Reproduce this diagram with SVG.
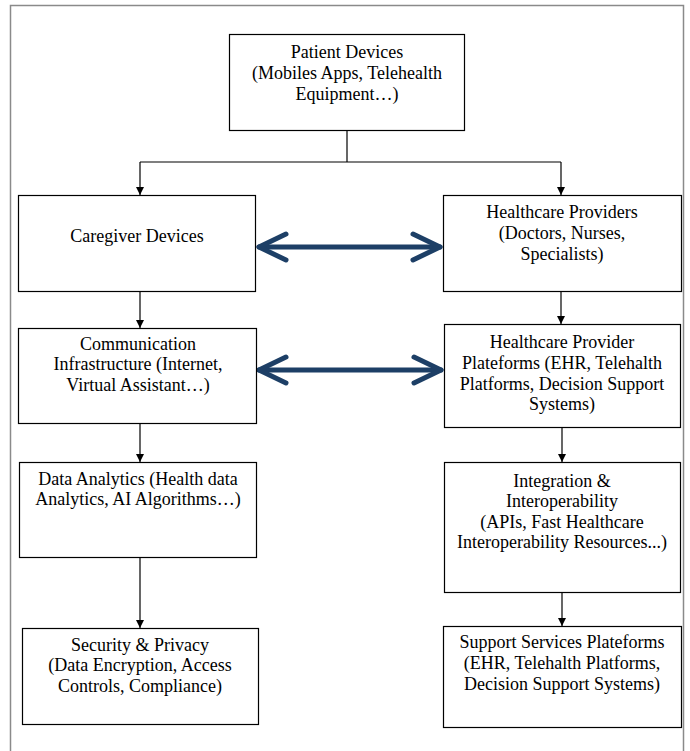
<svg xmlns="http://www.w3.org/2000/svg" width="690" height="751" viewBox="0 0 690 751">
<defs>
<style>
.box{fill:#fff;stroke:#000;stroke-width:1.2}
.c{fill:none;stroke:#000;stroke-width:1.2}
.dbl{fill:none;stroke:#1d3f66;stroke-width:5;stroke-linecap:round;stroke-linejoin:round}
</style>
<marker id="ah" viewBox="0 0 10 10" refX="10" refY="5" markerWidth="8" markerHeight="9" markerUnits="userSpaceOnUse" orient="auto">
<path d="M0,0 L10,5 L0,10 Z" fill="#000"/>
</marker>
</defs>
<rect x="0" y="0" width="690" height="751" fill="#fff"/>
<path d="M10.5,751 V5.5 H683.5 V751" fill="none" stroke="#8a8a8a" stroke-width="1.5"/>

<g id="connectors">
<path class="c" d="M347,130 V162"/>
<path class="c" d="M140,162 H561"/>
<path class="c" d="M140,162 V195" marker-end="url(#ah)"/>
<path class="c" d="M561,162 V195" marker-end="url(#ah)"/>
<path class="c" d="M140,291 V328" marker-end="url(#ah)"/>
<path class="c" d="M561,291 V324" marker-end="url(#ah)"/>
<path class="c" d="M140,423 V462" marker-end="url(#ah)"/>
<path class="c" d="M140,557 V628" marker-end="url(#ah)"/>
<path class="c" d="M562,427 V462" marker-end="url(#ah)"/>
<path class="c" d="M562,592 V626" marker-end="url(#ah)"/>
<g id="arrow-top">
<path class="dbl" d="M259,247 H440"/>
<path class="dbl" d="M286,234 L259,247 L286,260"/>
<path class="dbl" d="M413,234 L440,247 L413,260"/>
</g>
<g id="arrow-mid">
<path class="dbl" d="M259,370 H441"/>
<path class="dbl" d="M286,357 L259,370 L286,383"/>
<path class="dbl" d="M414,357 L441,370 L414,383"/>
</g>
</g>

<g font-family="Liberation Serif, Times New Roman, serif" font-size="18" text-anchor="middle" fill="#000">
<g id="patient-devices">
<rect class="box" x="229.5" y="34.5" width="235" height="96"/>
<text x="347" y="58">Patient Devices</text>
<text x="347" y="79">(Mobiles Apps, Telehealth</text>
<text x="347" y="100">Equipment…)</text>
</g>

<g id="caregiver-devices">
<rect class="box" x="18.5" y="195.5" width="237" height="96"/>
<text x="137" y="242">Caregiver Devices</text>
</g>

<g id="healthcare-providers">
<rect class="box" x="443.5" y="195.5" width="238" height="96"/>
<text x="562" y="218">Healthcare Providers</text>
<text x="562" y="239">(Doctors, Nurses,</text>
<text x="562" y="260">Specialists)</text>
</g>

<g id="communication-infrastructure">
<rect class="box" x="18.5" y="328.5" width="238" height="95"/>
<text x="138" y="350">Communication</text>
<text x="138" y="370">Infrastructure (Internet,</text>
<text x="138" y="391">Virtual Assistant…)</text>
</g>

<g id="healthcare-provider-platforms">
<rect class="box" x="444.5" y="324.5" width="236" height="103"/>
<text x="562" y="348">Healthcare Provider</text>
<text x="562" y="369">Plateforms (EHR, Telehalth</text>
<text x="562" y="390">Platforms, Decision Support</text>
<text x="562" y="410">Systems)</text>
</g>

<g id="data-analytics">
<rect class="box" x="19.5" y="462.5" width="237" height="95"/>
<text x="138" y="485">Data Analytics (Health data</text>
<text x="138" y="505">Analytics, AI Algorithms…)</text>
</g>

<g id="security-privacy">
<rect class="box" x="22.5" y="628.5" width="236" height="96"/>
<text x="140" y="651">Security &amp; Privacy</text>
<text x="140" y="671">(Data Encryption, Access</text>
<text x="140" y="692">Controls, Compliance)</text>
</g>

<g id="integration-interoperability">
<rect class="box" x="444.5" y="462.5" width="236" height="130"/>
<text x="562" y="487">Integration &amp;</text>
<text x="562" y="507">Interoperability</text>
<text x="562" y="528">(APIs, Fast Healthcare</text>
<text x="562" y="548">Interoperability Resources...)</text>
</g>

<g id="support-services-plateforms">
<rect class="box" x="443.5" y="626.5" width="238" height="101"/>
<text x="562" y="648">Support Services Plateforms</text>
<text x="562" y="669">(EHR, Telehalth Platforms,</text>
<text x="562" y="690">Decision Support Systems)</text>
</g>
</g>
</svg>
